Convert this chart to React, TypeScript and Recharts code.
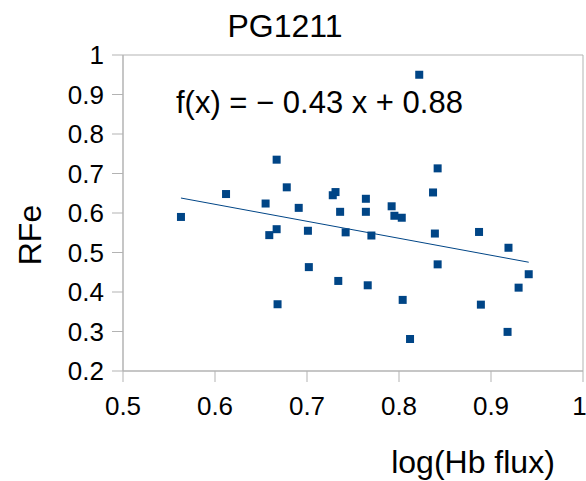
import { ScatterChart, Scatter, XAxis, YAxis, ReferenceArea } from 'recharts'

// log(Hb flux) vs RFe
const xValues = [
  0.563, 0.612, 0.655, 0.659, 0.667, 0.667, 0.668, 0.678, 0.691, 0.701, 0.702, 0.728,
  0.731, 0.734, 0.736, 0.742, 0.764, 0.764, 0.766, 0.770, 0.792, 0.795, 0.803, 0.804,
  0.812, 0.822, 0.837, 0.839, 0.842, 0.842, 0.887, 0.889, 0.918, 0.919, 0.930, 0.941,
]
const yValues = [
  0.590, 0.648, 0.624, 0.544, 0.735, 0.559, 0.369, 0.665, 0.613, 0.555, 0.463, 0.645,
  0.653, 0.428, 0.603, 0.551, 0.636, 0.603, 0.417, 0.543, 0.617, 0.593, 0.588, 0.380,
  0.281, 0.950, 0.652, 0.548, 0.713, 0.470, 0.552, 0.368, 0.299, 0.512, 0.411, 0.445,
]
const xTicks = [0.5, 0.6, 0.7, 0.8, 0.9, 1]
const yTicks = [0.2, 0.3, 0.4, 0.5, 0.6, 0.7, 0.8, 0.9, 1]

const slope = -0.43
const intercept = 0.88

const points = xValues.map((x, i) => ({ x, y: yValues[i] }))
const xMin = Math.min(...xValues)
const xMax = Math.max(...xValues)
const trend = [xMin, xMax].map((x) => ({ x, y: slope * x + intercept }))

const BLUE = '#004586'
const GRAY = '#b3b3b3'
const FONT = '"Liberation Sans", Arial, sans-serif'

const Square = (props: any) => {
  const { cx, cy } = props
  return <rect x={cx - 4} y={cy - 4} width={8} height={8} fill={BLUE} />
}

export default function App() {
  return (
    <div style={{ position: 'absolute', left: 0, top: 0, width: 586, height: 481, background: '#fff', fontFamily: FONT }}>
      <ScatterChart width={586} height={481} margin={{ top: 55, right: 3, bottom: 0, left: 0 }}>
        <XAxis
          type="number"
          dataKey="x"
          domain={[0.5, 1]}
          ticks={xTicks}
          allowDataOverflow
          height={110}
          stroke={GRAY}
          tickSize={11}
          tickMargin={15}
          tick={{ fill: '#000', fontSize: 26, fontFamily: FONT }}
        />
        <YAxis
          type="number"
          dataKey="y"
          domain={[0.2, 1]}
          ticks={yTicks}
          allowDataOverflow
          width={123}
          stroke={GRAY}
          tickSize={11}
          tickMargin={8}
          tick={{ fill: '#000', fontSize: 26, fontFamily: FONT }}
        />
        <ReferenceArea x1={0.5} x2={1} y1={0.2} y2={1} fill="none" stroke={GRAY} strokeWidth={1} />
        <Scatter data={trend} line={{ stroke: BLUE, strokeWidth: 1 }} shape={() => <g />} isAnimationActive={false} />
        <Scatter data={points} shape={Square} isAnimationActive={false} />
      </ScatterChart>
      <svg width={586} height={481} style={{ position: 'absolute', left: 0, top: 0, pointerEvents: 'none' }}>
        <g fontFamily={FONT} fill="#000">
          <text x={285} y={37} fontSize={32} textAnchor="middle">PG1211</text>
          <text x={176} y={113} fontSize={31}>f(x) = − 0.43 x + 0.88</text>
          <text x={473} y={473} fontSize={32} textAnchor="middle">log(Hb flux)</text>
          <text x={41} y={235} fontSize={32} textAnchor="middle" transform="rotate(-90 41 235)">RFe</text>
        </g>
      </svg>
    </div>
  )
}
